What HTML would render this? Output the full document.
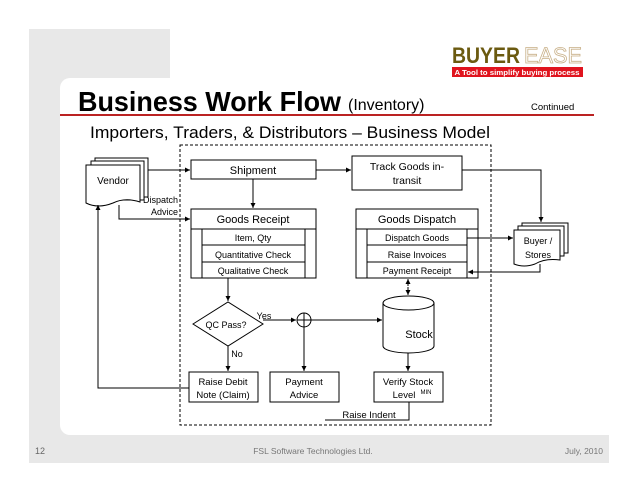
<!DOCTYPE html>
<html><head><meta charset="utf-8"><style>
body{margin:0;width:638px;height:493px;background:#fff;overflow:hidden;font-family:"Liberation Sans",sans-serif}
</style></head><body>
<svg width="638" height="493" viewBox="0 0 638 493" xmlns="http://www.w3.org/2000/svg" font-family="Liberation Sans, sans-serif">
<defs><marker id="a" markerWidth="6" markerHeight="6" refX="5" refY="3" orient="auto"><path d="M0,0.5 L5,3 L0,5.5z" fill="#000"/></marker></defs>
<rect x="29" y="29" width="141" height="60" fill="#e8e8e8"/>
<rect x="29" y="29" width="43" height="434" fill="#e8e8e8"/>
<rect x="29" y="435" width="580" height="28" fill="#e8e8e8"/>
<rect x="60" y="78" width="560" height="357" rx="10" fill="#fff"/>
<rect x="72" y="90" width="550" height="345" fill="#fff"/>
<text x="452" y="63" font-size="22" font-weight="bold" fill="#6b5a10" textLength="68" lengthAdjust="spacingAndGlyphs">BUYER</text>
<text x="524" y="63" font-size="22" fill="none" stroke="#c8b088" stroke-width="0.8" textLength="58" lengthAdjust="spacingAndGlyphs">EASE</text>
<rect x="452" y="67" width="131" height="10" fill="#e0141e"/>
<text x="517" y="75" font-size="7" font-weight="bold" fill="#fff" text-anchor="middle" textLength="125" lengthAdjust="spacingAndGlyphs">A Tool to simplify buying process</text>
<text x="78" y="111" font-size="28" font-weight="bold" textLength="263" lengthAdjust="spacingAndGlyphs">Business Work Flow</text>
<text x="348" y="110" font-size="16">(Inventory)</text>
<text x="531" y="110" font-size="9.5">Continued</text>
<line x1="60" y1="115" x2="594" y2="115" stroke="#b22" stroke-width="2"/>
<text x="90" y="138" font-size="17" textLength="400" lengthAdjust="spacingAndGlyphs">Importers, Traders, &amp; Distributors – Business Model</text>
<rect x="180" y="145" width="311" height="280" fill="none" stroke="#000" stroke-dasharray="3,2"/>
<g stroke="#000" fill="#fff" stroke-width="1">
<path d="M95,158 H148 V197 H95Z"/><path d="M91,161 H144 V200 H91Z"/>
<path d="M86,165 H140 V202 Q125,197 113,203 Q98,209 86,203Z"/>
<rect x="191" y="160" width="125" height="19"/>
<rect x="352" y="156" width="110" height="34"/>
<rect x="191" y="209" width="125" height="69"/><line x1="191" y1="229" x2="316" y2="229"/>
<rect x="202" y="229" width="103" height="49"/><line x1="202" y1="245" x2="305" y2="245"/><line x1="202" y1="262" x2="305" y2="262"/>
<rect x="356" y="209" width="122" height="69"/><line x1="356" y1="229" x2="478" y2="229"/>
<rect x="367" y="229" width="100" height="49"/><line x1="367" y1="245" x2="467" y2="245"/><line x1="367" y1="262" x2="467" y2="262"/>
<path d="M522,223 H568 V253 H522Z"/><path d="M518,226 H564 V256 H518Z"/>
<path d="M514,230 H560 V260 Q545,258 535,264 Q524,268 514,264Z"/>
<path d="M193,324 L228,302 L263,324 L228,346Z"/>
<circle cx="304" cy="320" r="7"/>
<path d="M383,303 V346 A25.5,7 0 0 0 434,346 V303"/><ellipse cx="408.5" cy="303" rx="25.5" ry="7"/>
<rect x="189" y="372" width="69" height="30"/><rect x="270" y="372" width="69" height="30"/><rect x="374" y="372" width="69" height="30"/>
</g>
<g stroke="#000" fill="none" stroke-width="1">
<line x1="148" y1="170" x2="190" y2="170" marker-end="url(#a)"/>
<line x1="316" y1="170" x2="351" y2="170" marker-end="url(#a)"/>
<polyline points="462,170 541,170 541,222" marker-end="url(#a)"/>
<line x1="253" y1="179" x2="253" y2="208" marker-end="url(#a)"/>
<polyline points="119,205 119,219 190,219" marker-end="url(#a)"/>
<polyline points="467,238 513,238" marker-end="url(#a)"/>
<polyline points="540,264 540,272 468,272" marker-end="url(#a)"/>
<line x1="228" y1="278" x2="228" y2="301" marker-end="url(#a)"/>
<line x1="263" y1="320" x2="296" y2="320" marker-end="url(#a)"/>
<line x1="297" y1="320" x2="311" y2="320"/><line x1="304" y1="313" x2="304" y2="327"/>
<line x1="311" y1="320" x2="382" y2="320" marker-end="url(#a)"/>
<line x1="304" y1="327" x2="304" y2="371" marker-end="url(#a)"/>
<line x1="228" y1="346" x2="228" y2="371" marker-end="url(#a)"/>
<line x1="408" y1="286" x2="408" y2="279" marker-end="url(#a)"/>
<line x1="408" y1="287" x2="408" y2="295" marker-end="url(#a)"/>
<line x1="408" y1="353" x2="408" y2="371" marker-end="url(#a)"/>
<polyline points="189,388 98,388 98,205" marker-end="url(#a)"/>
<polyline points="409,402 409,420 325,420"/>
</g>
<g font-size="10" text-anchor="middle">
<text x="113" y="184">Vendor</text>
<text x="178" y="203" font-size="9" text-anchor="end">Dispatch</text><text x="178" y="215" font-size="9" text-anchor="end">Advice</text>
<text x="253" y="174" font-size="11">Shipment</text>
<text x="407" y="170" font-size="10.5">Track Goods in-</text><text x="407" y="184" font-size="10.5">transit</text>
<text x="253" y="223" font-size="11">Goods Receipt</text>
<text x="253" y="241" font-size="9">Item, Qty</text>
<text x="253" y="258" font-size="9">Quantitative Check</text>
<text x="253" y="274" font-size="9">Qualitative Check</text>
<text x="417" y="223" font-size="11">Goods Dispatch</text>
<text x="417" y="241" font-size="9">Dispatch Goods</text>
<text x="417" y="258" font-size="9">Raise Invoices</text>
<text x="417" y="274" font-size="9">Payment Receipt</text>
<text x="538" y="244" font-size="9">Buyer /</text><text x="538" y="258" font-size="9">Stores</text>
<text x="226" y="328" font-size="9">QC Pass?</text>
<text x="264" y="319" font-size="9">Yes</text>
<text x="237" y="357" font-size="9">No</text>
<text x="419" y="338" font-size="11">Stock</text>
<text x="223" y="385" font-size="9.5">Raise Debit</text><text x="223" y="398" font-size="9.5">Note (Claim)</text>
<text x="304" y="385" font-size="9.5">Payment</text><text x="304" y="398" font-size="9.5">Advice</text>
<text x="408" y="385" font-size="9.5">Verify Stock</text><text x="404" y="398" font-size="9.5">Level</text><text x="426" y="394" font-size="6">MIN</text>
<text x="369" y="418" font-size="9.5">Raise Indent</text>
</g>
<text x="35" y="454" font-size="9" fill="#666">12</text>
<text x="313" y="454" font-size="8.5" fill="#777" text-anchor="middle">FSL Software Technologies Ltd.</text>
<text x="603" y="454" font-size="8.5" fill="#777" text-anchor="end">July, 2010</text>
</svg>
</body></html>
